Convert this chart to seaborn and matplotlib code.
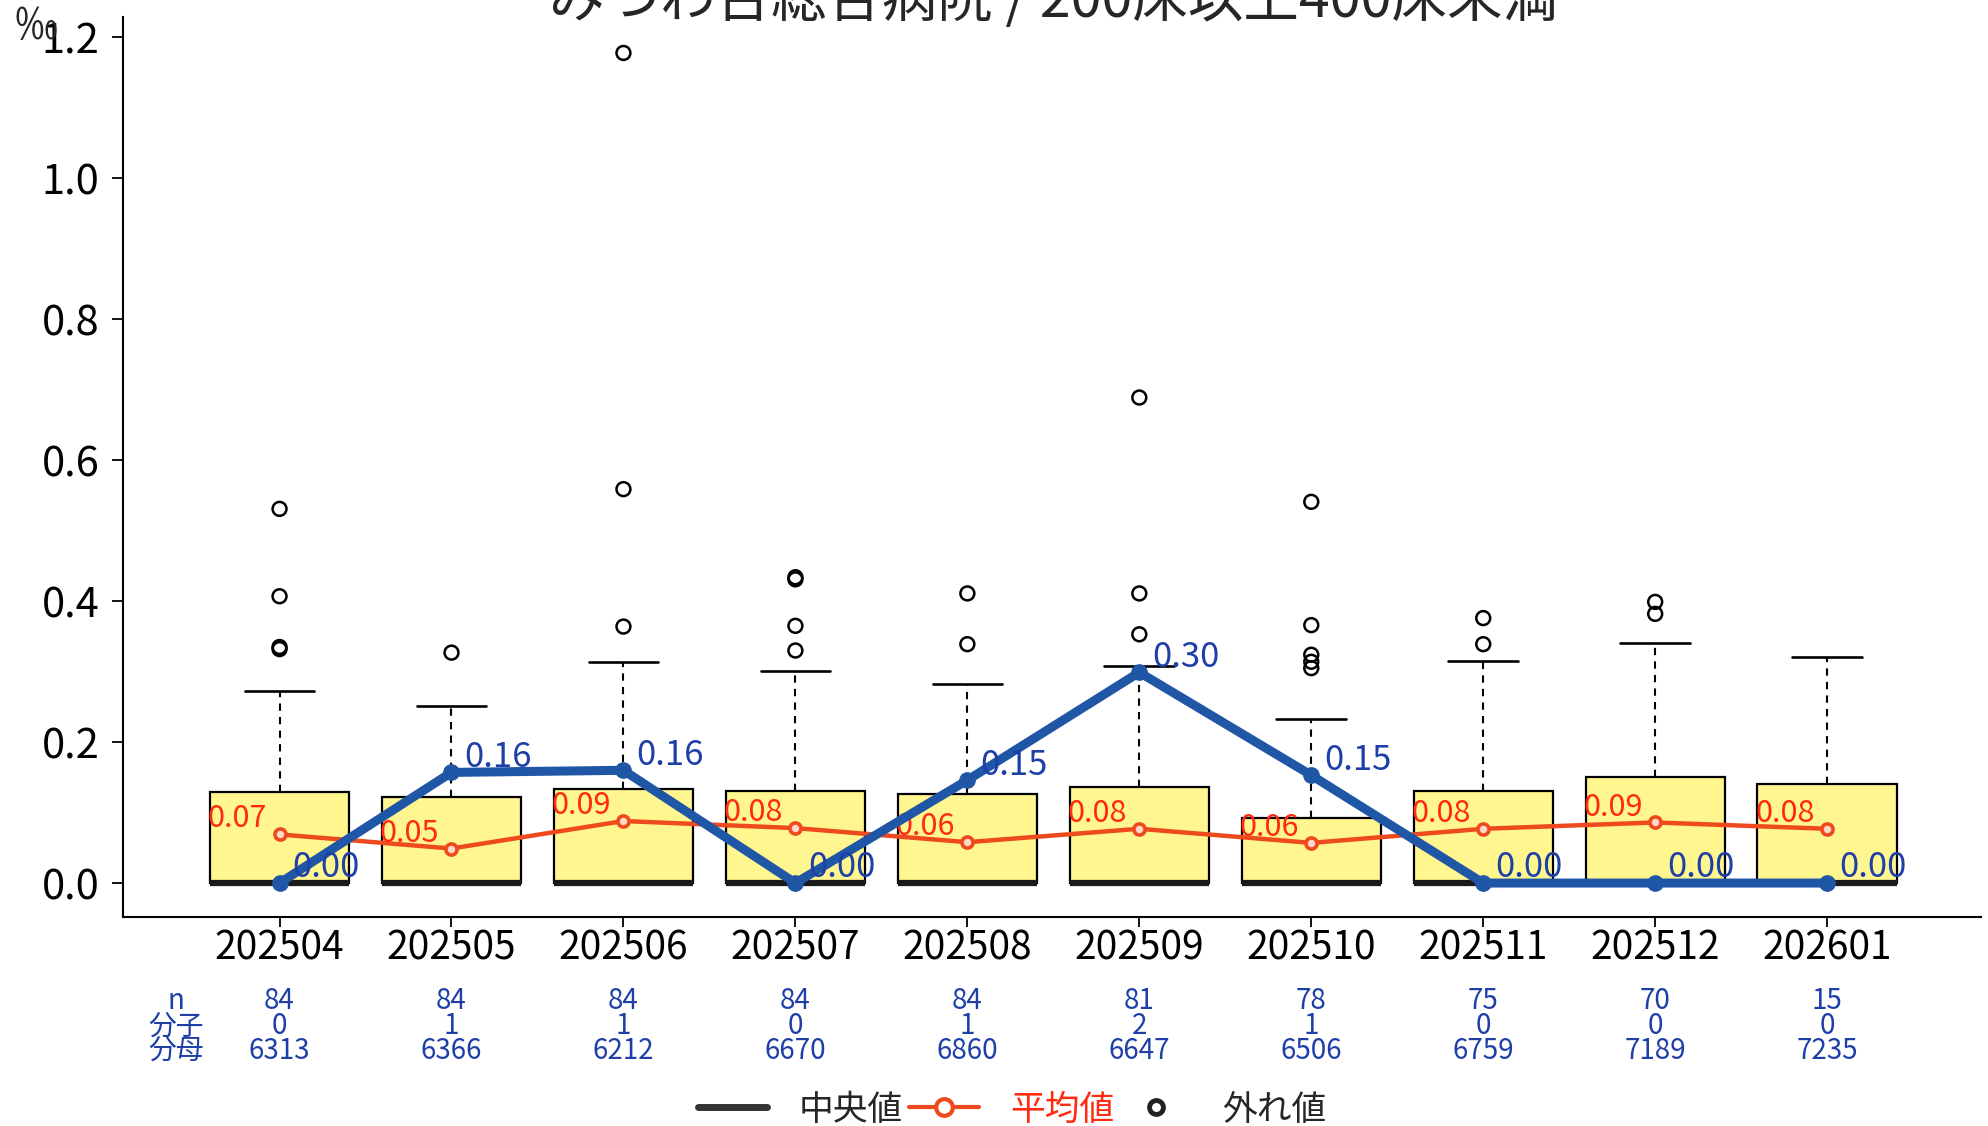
import matplotlib
matplotlib.use("Agg")
import matplotlib.pyplot as plt
from matplotlib.lines import Line2D
import seaborn as sns
import numpy as np
import pandas as pd

# ==========================
# Data
# ==========================
months = ["202504", "202505", "202506", "202507", "202508",
          "202509", "202510", "202511", "202512", "202601"]

box_q1 = [0.0, 0.0, 0.0, 0.0, 0.0, 0.0, 0.0, 0.0, 0.0, 0.0]
box_median = [0.0, 0.0, 0.0, 0.0, 0.0, 0.0, 0.0, 0.0, 0.0, 0.0]
box_q3 = [0.129, 0.122, 0.134, 0.130, 0.127, 0.137, 0.093, 0.131, 0.151, 0.140]
whisker_hi = [0.272, 0.251, 0.313, 0.301, 0.283, 0.308, 0.233, 0.315, 0.341, 0.321]

outliers = [
    [0.531, 0.407, 0.335, 0.332],
    [0.327],
    [1.178, 0.559, 0.364],
    [0.434, 0.431, 0.365, 0.330],
    [0.411, 0.339],
    [0.689, 0.411, 0.353],
    [0.541, 0.366, 0.324, 0.314, 0.305],
    [0.376, 0.339],
    [0.399, 0.382],
    [],
]

means = [0.069, 0.049, 0.088, 0.078, 0.058, 0.077, 0.057, 0.077, 0.086, 0.077]
hospital = [0.000, 0.157, 0.160, 0.000, 0.146, 0.299, 0.153, 0.000, 0.000, 0.000]

n_count = [84, 84, 84, 84, 84, 81, 78, 75, 70, 15]
numer = [0, 1, 1, 0, 1, 2, 1, 0, 0, 0]
denom = [6313, 6366, 6212, 6670, 6860, 6647, 6506, 6759, 7189, 7235]
row_names = ["n", "分子", "分母"]

title = "みつわ台総合病院 / 200床以上400床未満"
y_ticks = [0.0, 0.2, 0.4, 0.6, 0.8, 1.0, 1.2]

# ==========================
# Style
# ==========================
sns.set_theme(style="ticks")
plt.rcParams["font.family"] = ["Noto Sans CJK JP", "DejaVu Sans"]

box_yellow = "#FFF68F"
red_line = "#EE4A1E"
red_text = "#FF2A10"
blue_line = "#1F56A6"
blue_text = "#1F3FA8"

fig = plt.figure(figsize=(19.88, 11.26), dpi=100)
ax = fig.add_axes([0.0619, 0.1856, 0.9346, 0.7993])

pos = np.arange(len(months))

# Boxes
stats = []
for i in range(len(months)):
    stats.append(dict(med=box_median[i], q1=box_q1[i], q3=box_q3[i],
                      whislo=box_q1[i], whishi=whisker_hi[i], fliers=[]))

ax.bxp(
    stats,
    positions=pos,
    widths=0.81,
    capwidths=0.405,
    patch_artist=True,
    showfliers=False,
    manage_ticks=False,
    boxprops=dict(facecolor=box_yellow, edgecolor="black", linewidth=1.6),
    whiskerprops=dict(color="black", linewidth=1.5, linestyle=(0, (3.5, 3.0))),
    capprops=dict(color="black", linewidth=1.9),
    medianprops=dict(color="#1a1a1a", linewidth=4.5),
)

# Outliers
out_df = pd.DataFrame(
    [(i, v) for i, vals in enumerate(outliers) for v in vals],
    columns=["pos", "value"],
)
sns.scatterplot(
    data=out_df, x="pos", y="value", ax=ax,
    marker="o", s=100, facecolor="none", edgecolor="black",
    linewidth=1.8, zorder=3, legend=False,
)

# Mean line
sns.lineplot(
    x=pos, y=means, ax=ax, color=red_line, linewidth=3.2,
    marker="o", markersize=8, markerfacecolor="#ffd8c8",
    markeredgecolor=red_line, markeredgewidth=2.6, zorder=4,
)

# Hospital line
sns.lineplot(
    x=pos, y=hospital, ax=ax, color=blue_line, linewidth=6.5,
    marker="o", markersize=11, markeredgecolor=blue_line,
    markeredgewidth=1, zorder=5,
)

for i in range(len(months)):
    ax.annotate(f"{means[i]:.2f}", (pos[i], means[i]),
                xytext=(-9, 5), textcoords="offset points",
                ha="right", va="baseline", color=red_text,
                fontsize=22, zorder=4.5)
    ax.annotate(f"{hospital[i]:.2f}", (pos[i], hospital[i]),
                xytext=(9, 4), textcoords="offset points",
                ha="left", va="baseline", color=blue_text,
                fontsize=25, zorder=6)

# Axes
ax.set_xlim(-0.91, 9.895)
ax.set_ylim(-0.0482, 1.229)
ax.set_xticks(pos)
ax.set_xticklabels(months)
ax.set_yticks(y_ticks)
ax.set_yticklabels([f"{t:.1f}" for t in y_ticks])
ax.set_xlabel("")
ax.set_ylabel("")

ax.tick_params(axis="x", labelsize=28, length=7, width=1.3, pad=1, colors="black")
ax.tick_params(axis="y", labelsize=30, length=8, width=1.3, pad=9, colors="black")
sns.despine(ax=ax)
ax.spines["left"].set_linewidth(1.5)
ax.spines["bottom"].set_linewidth(1.5)
ax.spines["left"].set_color("black")
ax.spines["bottom"].set_color("black")
ax.grid(False)

# Count table under the axis (one tight three-line block per month)
tr = ax.get_xaxis_transform()
for i in range(len(months)):
    ax.text(pos[i], -0.077, f"{n_count[i]}\n{numer[i]}\n{denom[i]}",
            transform=tr, ha="center", va="top", multialignment="center",
            linespacing=0.78, color=blue_text, fontsize=20)

ax.text(-0.604, -0.077, "\n".join(row_names), transform=tr, ha="center",
        va="top", multialignment="center", linespacing=0.78,
        color=blue_text, fontsize=20)

# Title (cut at the top edge like the scan) and unit
fig.text(0.5297, 1 - 17 / 1126, title, ha="center", va="baseline", fontsize=40)
fig.text(14 / 1988, 1 - 5 / 1126, "‰", ha="left", va="top", fontsize=31)

# Legend
h_med = Line2D([], [], color="#333333", linewidth=5)
h_mean = Line2D([], [], color=red_line, linewidth=3, marker="o", markersize=12,
                markerfacecolor="white", markeredgecolor=red_line,
                markeredgewidth=3)
h_out = Line2D([], [], linestyle="none", marker="o", markersize=10,
               markerfacecolor="none", markeredgecolor="#222222",
               markeredgewidth=3.5)
leg = fig.legend(
    [h_med, h_mean, h_out], ["中央値", "平均値", "外れ値"],
    loc="center", bbox_to_anchor=(0.509, 0.0142), ncol=3, frameon=False,
    fontsize=25, handlelength=2.0, handletextpad=0.9, columnspacing=0.2,
)
leg.get_texts()[1].set_color(red_text)

fig.savefig("out.png", dpi=100)
